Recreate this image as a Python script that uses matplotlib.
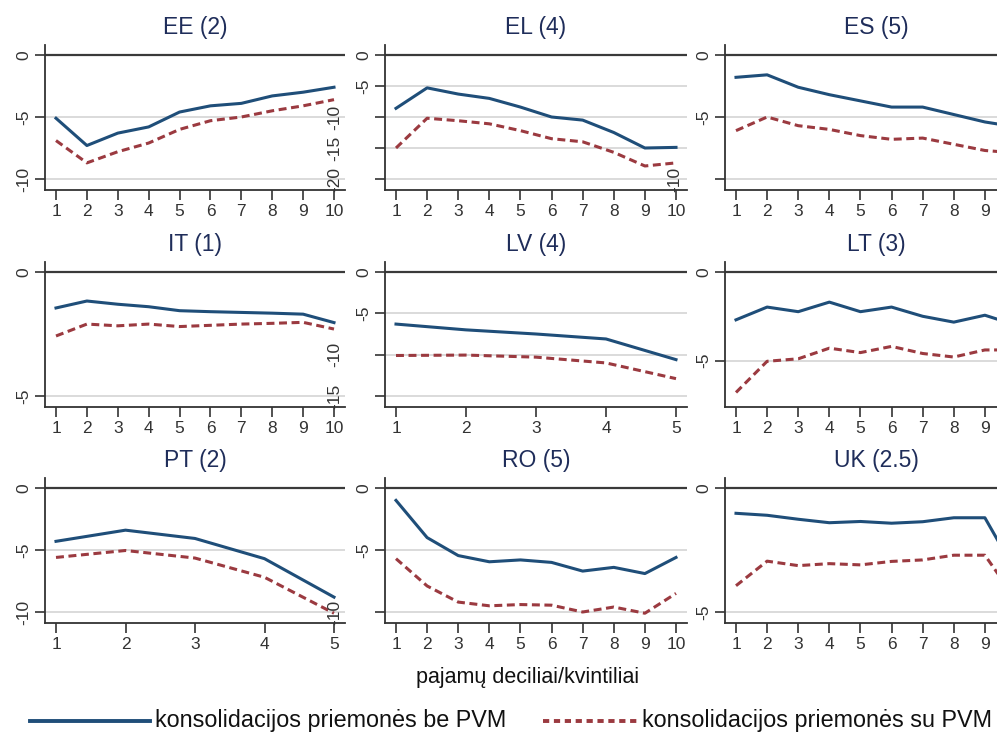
import matplotlib
matplotlib.use("Agg")
import matplotlib.pyplot as plt
import matplotlib.transforms as mtransforms
from matplotlib.lines import Line2D

plt.rcParams['font.family'] = ['Liberation Sans', 'DejaVu Sans']

# --- data (share of income change, %) ---
titles = ["EE (2)", "EL (4)", "ES (5)",
          "IT (1)", "LV (4)", "LT (3)",
          "PT (2)", "RO (5)", "UK (2.5)"]

deciles = list(range(1, 11))
quintiles = list(range(1, 6))

ee_be = [-5.1, -7.3, -6.3, -5.8, -4.6, -4.1, -3.9, -3.3, -3.0, -2.6]
ee_su = [-6.9, -8.7, -7.8, -7.1, -6.0, -5.3, -5.0, -4.5, -4.1, -3.6]
el_be = [-8.6, -5.3, -6.3, -7.0, -8.4, -10.0, -10.5, -12.5, -15.0, -14.9]
el_su = [-15.0, -10.2, -10.6, -11.1, -12.2, -13.5, -14.0, -15.7, -17.9, -17.4]
es_be = [-1.8, -1.6, -2.6, -3.2, -3.7, -4.2, -4.2, -4.8, -5.4, -5.8]
es_su = [-6.1, -5.0, -5.7, -6.0, -6.5, -6.8, -6.7, -7.2, -7.7, -7.9]
it_be = [-1.45, -1.17, -1.3, -1.4, -1.56, -1.6, -1.63, -1.66, -1.7, -2.04]
it_su = [-2.58, -2.1, -2.17, -2.1, -2.2, -2.15, -2.1, -2.07, -2.03, -2.3]
lv_be = [-6.3, -7.0, -7.5, -8.1, -10.6]
lv_su = [-10.1, -10.05, -10.3, -11.0, -12.9]
lt_be = [-2.7, -1.98, -2.24, -1.7, -2.24, -1.98, -2.5, -2.83, -2.44, -3.0]
lt_su = [-6.8, -5.04, -4.9, -4.3, -4.55, -4.2, -4.6, -4.8, -4.4, -4.4]
pt_be = [-4.3, -3.4, -4.07, -5.7, -8.8]
pt_su = [-5.6, -5.04, -5.65, -7.2, -10.1]
ro_be = [-1.0, -4.0, -5.45, -5.95, -5.8, -6.0, -6.7, -6.4, -6.9, -5.6]
ro_su = [-5.7, -7.9, -9.2, -9.5, -9.4, -9.45, -10.0, -9.6, -10.1, -8.5]
uk_be = [-1.02, -1.1, -1.26, -1.4, -1.35, -1.42, -1.36, -1.2, -1.2, -3.4]
uk_su = [-3.94, -2.95, -3.13, -3.05, -3.1, -2.96, -2.9, -2.71, -2.71, -4.5]

series_names = ["konsolidacijos priemonės be PVM", "konsolidacijos priemonės su PVM"]

panels = [
    (deciles, ee_be, ee_su, [0, -5, -10], -10, []),
    (deciles, el_be, el_su, [0, -5, -10, -15, -20], -20, [-10, -15, -20]),
    (deciles, es_be, es_su, [0, -5, -10], -10, [-10]),
    (deciles, it_be, it_su, [0, -5], -5, []),
    (quintiles, lv_be, lv_su, [0, -5, -10, -15], -15, [-10, -15]),
    (deciles, lt_be, lt_su, [0, -5], -7, []),
    (quintiles, pt_be, pt_su, [0, -5, -10], -10, []),
    (deciles, ro_be, ro_su, [0, -5, -10], -10, [-10]),
    (deciles, uk_be, uk_su, [0, -5], -5, []),
]

BLUE = "#1f4e79"
RED = "#9b3a40"
TITLE = "#1f2d5a"

W, H = 997, 742
fig = plt.figure(figsize=(W / 100, H / 100), dpi=100)

col_left = [45, 385, 725]
col_width = [300, 302, 302]
row_top = [45, 262, 478]
ax_h = 145

for i, (xs, be, su, ticks, ymin, shifted) in enumerate(panels):
    r, c = divmod(i, 3)
    left, width, top = col_left[c], col_width[c], row_top[r]
    ax = fig.add_axes([left / W, (H - top - ax_h) / H, width / W, ax_h / H])

    # x limits: first point 11px from the axis, last point 11px from the right edge
    n = len(xs)
    step = (width - 22) / (n - 1)
    ax.set_xlim(1 - 11 / step, n + 11 / step)
    # y limits: 0 sits 10px below the top, lowest gridline 11px above the bottom
    scale = (ax_h - 21) / abs(ymin)
    ax.set_ylim(ymin - 11 / scale, 10 / scale)

    for t in ticks[1:]:
        ax.axhline(t, color="#d4d4d4", lw=1.2, zorder=1)
    ax.axhline(0, color="#3a3a3a", lw=1.6, zorder=1)

    ax.plot(xs, be, color=BLUE, lw=2.2, zorder=3)
    ax.plot(xs, su, color=RED, lw=2.2, dashes=(2.6, 1.5), zorder=3)

    ax.set_xticks(xs)
    # right column runs past the picture edge: its last label is not shown
    xlabels = [str(x) for x in xs]
    if c == 2:
        xlabels[-1] = ""
    ax.set_xticklabels(xlabels)
    ax.set_yticks(ticks)
    labels = ["" if t in shifted else ("0" if t == 0 else str(t)) for t in ticks]
    ax.set_yticklabels(labels, rotation=90, va="center")
    ax.tick_params(axis="both", direction="out", length=7, width=1.2,
                   color="#333333", labelsize=12.5, labelcolor="#333333", pad=3)

    # labels of this panel that were pasted further left in the source image
    trans = mtransforms.blended_transform_factory(ax.transAxes, ax.transData)
    for t in shifted:
        ax.text(-50 / width, t, str(t), transform=trans, rotation=90,
                ha="center", va="center", fontsize=12.5, color="#333333", zorder=5)

    for side in ["top", "right"]:
        ax.spines[side].set_visible(False)
    for side in ["left", "bottom"]:
        ax.spines[side].set_color("#333333")
        ax.spines[side].set_linewidth(1.3)

    ax.set_title(titles[i], fontsize=16.5, color=TITLE, pad=8)

fig.text(528 / W, 1 - 678 / H, "pajamų deciliai/kvintiliai",
         ha="center", va="center", fontsize=15.5, color="#111111")

# legend key, laid out by hand to follow the source positions
ly = 1 - 721 / H
fig.add_artist(Line2D([30 / W, 150 / W], [ly, ly], color=BLUE, lw=2.8))
fig.text(155 / W, ly, series_names[0], ha="left", va="center",
         fontsize=16.8, color="#111111")
fig.add_artist(Line2D([543 / W, 637 / W], [ly, ly], color=RED, lw=2.8,
                      dashes=(1.6, 1.2)))
fig.text(642 / W, ly, series_names[1], ha="left", va="center",
         fontsize=16.8, color="#111111")

fig.savefig("out.png", dpi=100)
